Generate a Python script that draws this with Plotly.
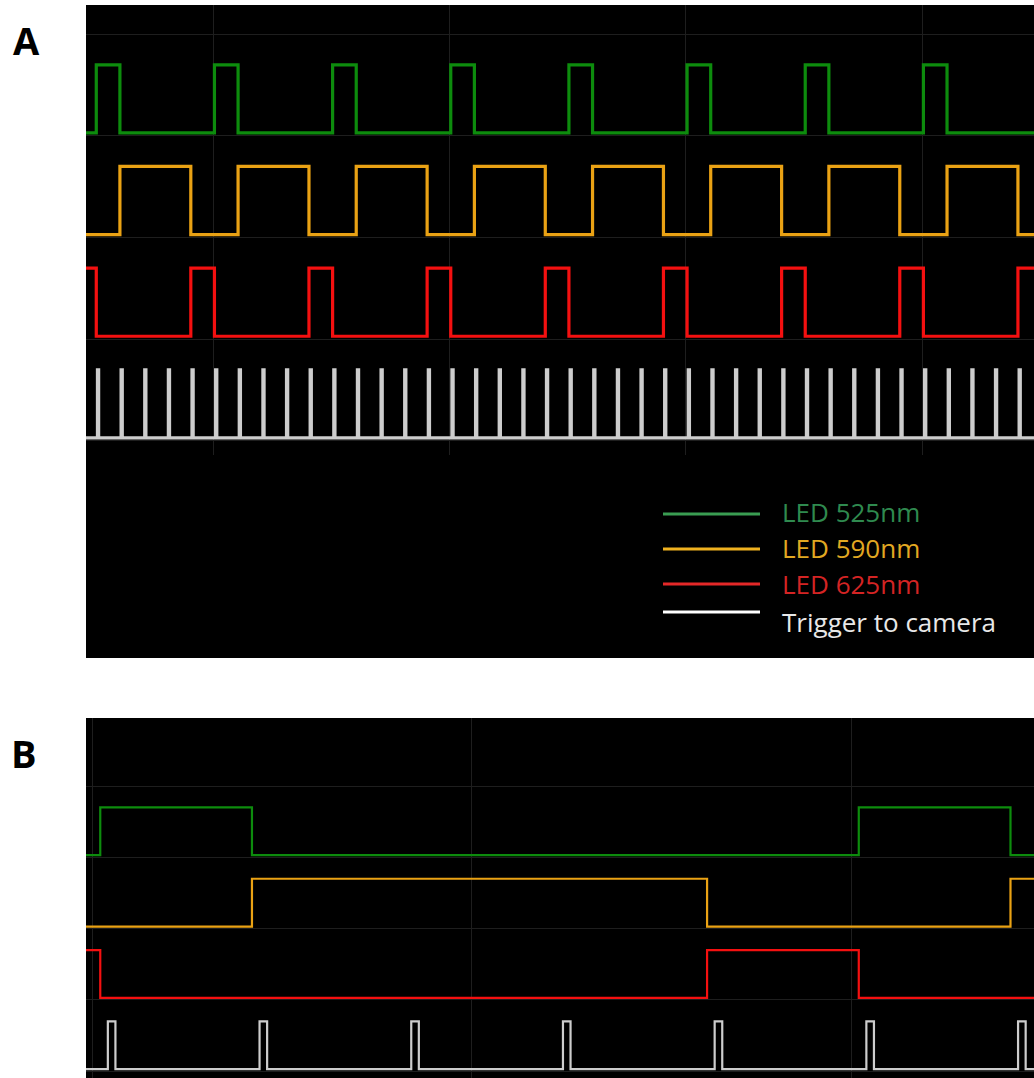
import plotly.graph_objects as go

# ---------------- data (times in ms) ----------------
# Panel A: long view
A_GREEN_START = [1, 101, 201, 301, 401, 501, 601, 701]
A_GREEN_END = [21, 121, 221, 321, 421, 521, 621, 721]
A_ORANGE_START = [21, 121, 221, 321, 421, 521, 621, 721]
A_ORANGE_END = [81, 181, 281, 381, 481, 581, 681, 781]
A_RED_START = [-19, 81, 181, 281, 381, 481, 581, 681, 781]
A_RED_END = [1, 101, 201, 301, 401, 501, 601, 701, 801]
A_TRIGGER = [2, 22, 42, 62, 82, 102, 122, 142, 162, 182,
             202, 222, 242, 262, 282, 302, 322, 342, 362, 382,
             402, 422, 442, 462, 482, 502, 522, 542, 562, 582,
             602, 622, 642, 662, 682, 702, 722, 742, 762, 782]

# Panel B: zoomed view
B_GREEN_START = [1, 101]
B_GREEN_END = [21, 121]
B_ORANGE_START = [21, 121]
B_ORANGE_END = [81, 141]
B_RED_START = [-19, 81]
B_RED_END = [1, 101]
B_TRIGGER = [2, 22, 42, 62, 82, 102, 122]
TRIGGER_PULSE_MS = 1

SERIES_NAMES = ["LED 525nm", "LED 590nm", "LED 625nm", "Trigger to camera"]

# ---------------- styles ----------------
GREEN = "#0d8c0d"
ORANGE = "#eaa214"
RED = "#f41010"
TRIG = "#cdcdcd"
LEG_LINE = ["#3a9d52", "#f0b220", "#e42828", "#ffffff"]
LEG_TEXT = ["#2f8a4f", "#e2a822", "#d42424", "#e8e8e8"]
GRID = "#1e1e1e"
LOW, HIGH = 0.03, 0.70

W, H = 1034, 1078


def px_x(p):
    return p / W


def px_y(p):
    return 1 - p / H


def step(starts, ends, base, x_lo, x_hi):
    xs, ys = [x_lo], [base + LOW]
    for s, e in zip(starts, ends):
        xs += [s, s, e, e]
        ys += [base + LOW, base + HIGH, base + HIGH, base + LOW]
    xs.append(x_hi)
    ys.append(base + LOW)
    return xs, ys


fig = go.Figure()

panels = [
    dict(xa="x", ya="y", lw=3.2, lo=-40, hi=840,
         series=[(A_GREEN_START, A_GREEN_END, GREEN, 3),
                 (A_ORANGE_START, A_ORANGE_END, ORANGE, 2),
                 (A_RED_START, A_RED_END, RED, 1),
                 (A_TRIGGER, [t + TRIGGER_PULSE_MS for t in A_TRIGGER], TRIG, 0)]),
    dict(xa="x2", ya="y2", lw=2.2, lo=-40, hi=160,
         series=[(B_GREEN_START, B_GREEN_END, GREEN, 3),
                 (B_ORANGE_START, B_ORANGE_END, ORANGE, 2),
                 (B_RED_START, B_RED_END, RED, 1),
                 (B_TRIGGER, [t + TRIGGER_PULSE_MS for t in B_TRIGGER], TRIG, 0)]),
]

for p in panels:
    for (st, en, col, base), name in zip(p["series"], SERIES_NAMES):
        xs, ys = step(st, en, base, p["lo"], p["hi"])
        fig.add_trace(go.Scatter(x=xs, y=ys, mode="lines", name=name,
                                 line=dict(color=col, width=p["lw"]),
                                 xaxis=p["xa"], yaxis=p["ya"],
                                 showlegend=False, hoverinfo="skip"))

axis_common = dict(showgrid=True, gridcolor=GRID, gridwidth=1, zeroline=False,
                   showticklabels=False, ticks="", showline=False)

fig.update_layout(
    width=W, height=H,
    margin=dict(l=0, r=0, t=0, b=0),
    paper_bgcolor="white",
    plot_bgcolor="black",
    showlegend=False,
    xaxis=dict(domain=[px_x(86), 1], range=[-7.7, 794.6], tick0=100, dtick=200,
               anchor="y", **axis_common),
    yaxis=dict(domain=[px_y(455), px_y(5)], range=[-0.138, 4.288], tick0=0, dtick=1,
               anchor="x", **axis_common),
    xaxis2=dict(domain=[px_x(86), 1], range=[-0.88, 124.1], tick0=0, dtick=50,
                anchor="y2", **axis_common),
    yaxis2=dict(domain=[0, px_y(718)], range=[-0.094, 4.954], tick0=0, dtick=1,
                anchor="x2", **axis_common),
)

shapes = [dict(type="rect", xref="paper", yref="paper", layer="below",
               x0=px_x(86), x1=1, y0=px_y(658), y1=px_y(454),
               fillcolor="black", line=dict(width=0))]

line_y = [514, 549, 584, 612]
text_y = [512, 548, 584, 622]
annotations = []
for i, name in enumerate(SERIES_NAMES):
    shapes.append(dict(type="line", xref="paper", yref="paper",
                       x0=px_x(663), x1=px_x(760), y0=px_y(line_y[i]), y1=px_y(line_y[i]),
                       line=dict(color=LEG_LINE[i], width=3)))
    annotations.append(dict(xref="paper", yref="paper", x=px_x(780), y=px_y(text_y[i]),
                            xanchor="left", yanchor="middle", showarrow=False,
                            text=name,
                            font=dict(family="Open Sans", size=26, color=LEG_TEXT[i])))

for lab, cx, cy in [("A", 26, 40), ("B", 24, 753)]:
    annotations.append(dict(xref="paper", yref="paper", x=px_x(cx), y=px_y(cy),
                            xanchor="center", yanchor="middle", showarrow=False,
                            text="<b>%s</b>" % lab,
                            font=dict(family="Open Sans", size=38, color="black")))

fig.update_layout(shapes=shapes, annotations=annotations)

fig.write_html("out.html")
